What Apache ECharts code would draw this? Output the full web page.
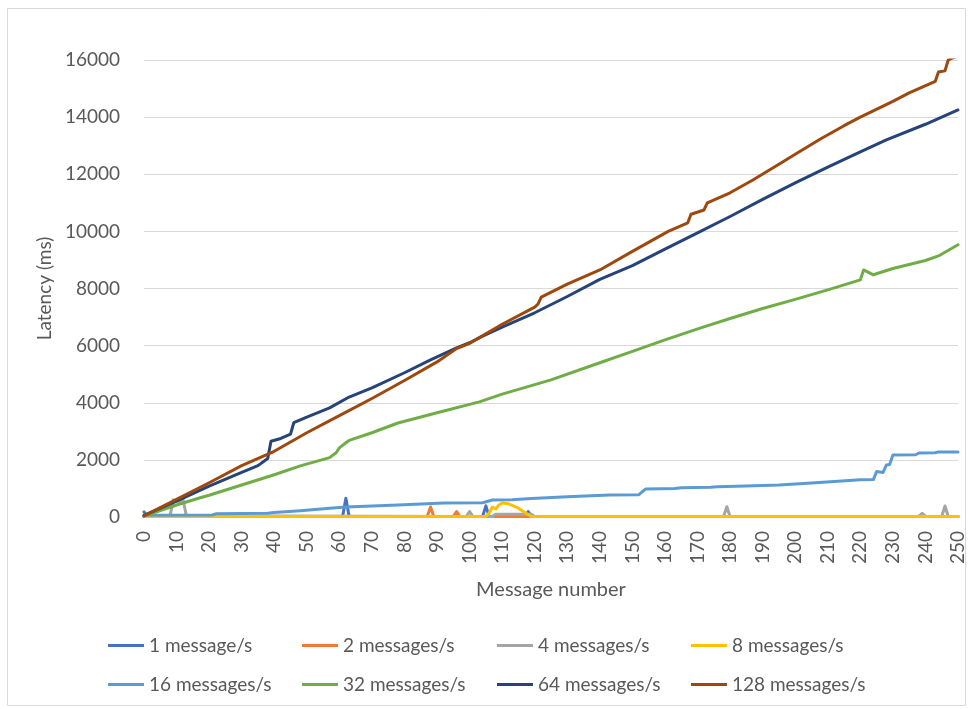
<!DOCTYPE html>
<html>
<head>
<meta charset="utf-8">
<title>Latency vs message number</title>
<script src="https://cdn.jsdelivr.net/npm/echarts@6/dist/echarts.min.js"></script>
<style>
  html, body { margin: 0; padding: 0; background: #ffffff; }
  #chart { width: 968px; height: 709px; }
</style>
</head>
<body>
<div id="chart"></div>
<script>
// Axis ranges
const xRange = { min: 0, max: 250, step: 10 };
const yRange = { min: 0, max: 16000, step: 2000 };

// Series names and colours
const seriesNames = [
  '1 message/s', '2 messages/s', '4 messages/s', '8 messages/s',
  '16 messages/s', '32 messages/s', '64 messages/s', '128 messages/s'
];
const seriesColors = [
  '#4472C4', '#ED7D31', '#A5A5A5', '#FFC000',
  '#5B9BD5', '#70AD47', '#264478', '#9E480E'
];

// Latency (ms) per message number, [message, latency]
const rate1 = [[0,180],[1,20],[61,20],[62,660],[63,20],[104,20],[105,390],[106,20],[117,20],[118,190],[119,20],[238,20],[239,80],[240,20],[250,20]];
const rate2 = [[0,20],[87,20],[88,350],[89,20],[95,20],[96,190],[97,20],[250,20]];
const rate4 = [[0,20],[8,40],[9,600],[10,560],[11,540],[12,620],[13,40],[99,20],[100,190],[101,20],[107,20],[108,100],[119,100],[120,20],[178,20],[179,360],[180,20],[238,20],[239,130],[240,20],[245,20],[246,385],[247,20],[250,20]];
const rate8 = [[0,15],[105,15],[106,140],[107,350],[108,280],[109,420],[110,490],[112,460],[115,310],[118,80],[119,15],[250,15]];
const rate16 = [[0,60],[21,70],[22,110],[38,130],[40,160],[48,220],[57,310],[62,350],[78,420],[92,490],[104,500],[107,595],[113,600],[119,650],[130,710],[143,770],[152,780],[154,980],[163,1000],[165,1020],[174,1040],[176,1060],[185,1085],[195,1120],[205,1190],[212,1240],[220,1300],[224,1310],[225,1590],[227,1560],[228,1820],[229,1840],[230,2170],[237,2180],[238,2240],[243,2250],[244,2280],[250,2280]];
const rate32 = [[0,30],[10,420],[17,665],[20,760],[30,1120],[40,1480],[48,1790],[57,2080],[59,2250],[60,2420],[62,2600],[63,2680],[70,2950],[78,3290],[90,3650],[103,4030],[110,4300],[125,4800],[140,5400],[150,5800],[160,6200],[171,6620],[180,6950],[190,7300],[200,7620],[210,7950],[220,8300],[221,8650],[224,8480],[230,8700],[240,8980],[244,9140],[250,9530]];
const rate64 = [[0,60],[10,560],[20,1080],[30,1560],[35,1800],[38,2050],[39,2650],[42,2750],[45,2900],[46,3300],[50,3500],[57,3820],[63,4200],[70,4520],[80,5050],[88,5500],[96,5920],[100,6100],[104,6330],[110,6650],[120,7150],[130,7720],[140,8320],[150,8800],[160,9380],[170,9950],[180,10520],[190,11120],[200,11700],[210,12250],[220,12780],[228,13200],[240,13750],[250,14250]];
const rate128 = [[0,40],[10,620],[20,1200],[30,1800],[40,2300],[50,2950],[60,3550],[70,4150],[80,4780],[90,5430],[96,5900],[100,6080],[110,6750],[120,7350],[121,7450],[122,7700],[130,8150],[140,8650],[150,9300],[161,10000],[167,10300],[168,10600],[172,10750],[173,11000],[180,11350],[187,11800],[195,12350],[200,12700],[208,13250],[215,13700],[220,14000],[230,14550],[235,14850],[242,15200],[243,15250],[244,15580],[246,15620],[247,16000],[250,16150]];

const seriesData = [rate1, rate2, rate4, rate8, rate16, rate32, rate64, rate128];

const FONT = 'Lato';
const TEXT = '#595959';
const GRID = '#D9D9D9';

// Legend laid out as a 4 x 2 grid below the plot
const legendCols = [108, 302, 497, 691];
const legendRows = [636, 675];
const legends = seriesNames.map((name, i) => ({
  data: [name],
  left: legendCols[i % 4],
  top: legendRows[Math.floor(i / 4)],
  orient: 'horizontal',
  padding: 0,
  icon: 'rect',
  itemWidth: 36,
  itemHeight: 3,
  selectedMode: false,
  textStyle: { color: TEXT, fontFamily: FONT, fontSize: 19 }
}));

const chart = echarts.init(document.getElementById('chart'), null, { renderer: 'canvas' });

chart.setOption({
  animation: false,
  backgroundColor: '#ffffff',
  color: seriesColors,
  grid: { left: 144, right: 10, top: 60, bottom: 192, containLabel: false },
  graphic: [{
    type: 'rect',
    shape: { x: 7.5, y: 8.5, width: 958, height: 697 },
    style: { fill: 'none', stroke: GRID, lineWidth: 1 },
    silent: true
  }],
  xAxis: {
    type: 'value',
    min: xRange.min,
    max: xRange.max,
    interval: xRange.step,
    name: 'Message number',
    nameLocation: 'middle',
    nameGap: 63,
    nameTextStyle: { color: TEXT, fontFamily: FONT, fontSize: 20 },
    axisLine: { show: true, lineStyle: { color: GRID, width: 1 } },
    axisTick: { show: false },
    splitLine: { show: false },
    axisLabel: {
      rotate: 90,
      margin: 14,
      color: TEXT,
      fontFamily: FONT,
      fontSize: 19
    }
  },
  yAxis: {
    type: 'value',
    min: yRange.min,
    max: yRange.max,
    interval: yRange.step,
    name: 'Latency (ms)',
    nameLocation: 'middle',
    nameGap: 88,
    nameTextStyle: { color: TEXT, fontFamily: FONT, fontSize: 19 },
    axisLine: { show: false },
    axisTick: { show: false },
    splitLine: { show: true, lineStyle: { color: GRID, width: 1 } },
    axisLabel: {
      margin: 24,
      color: TEXT,
      fontFamily: FONT,
      fontSize: 19,
      formatter: (v) => String(v)
    }
  },
  legend: legends,
  series: seriesNames.map((name, i) => ({
    name: name,
    type: 'line',
    data: seriesData[i],
    showSymbol: false,
    symbol: 'none',
    smooth: false,
    lineStyle: { width: 3, color: seriesColors[i], join: 'round', cap: 'round' },
    itemStyle: { color: seriesColors[i] },
    emphasis: { disabled: true }
  }))
});
</script>
</body>
</html>
